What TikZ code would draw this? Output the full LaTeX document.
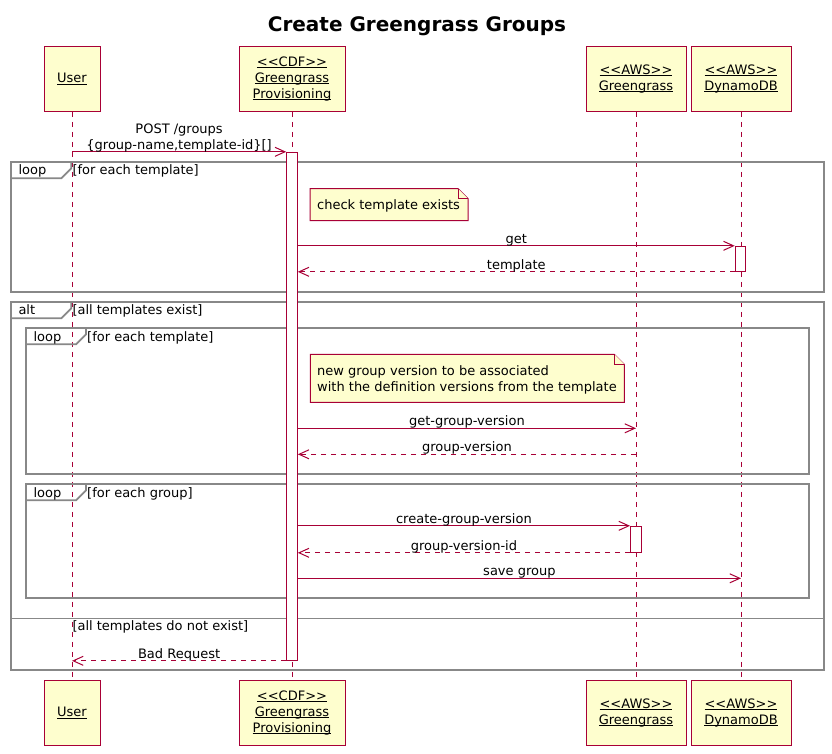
\documentclass[tikz,border=0pt]{standalone}
\usepackage{fontspec}
\setmainfont{DejaVu Sans}[Ligatures=TeXOff]
\usetikzlibrary{arrows.meta}
\definecolor{pu}{HTML}{A80036}
\definecolor{pfill}{HTML}{FEFECE}
\definecolor{fr}{HTML}{888888}
\newcommand\uln[1]{\leavevmode\setbox0\hbox{#1}\rlap{\rule[-1.8pt]{\wd0}{0.9pt}}\box0}
\tikzset{
  txt/.style={font=\fontsize{13}{16}\selectfont},
  participant/.style={txt, draw=pu, fill=pfill, line width=1pt, minimum height=65pt, align=center, inner sep=0pt},
  lifeline/.style={draw=pu, dash pattern=on 5pt off 5pt, line width=1pt},
  actbar/.style={draw=pu, fill=white, line width=1pt, minimum width=10.6pt, inner sep=0pt},
  msg/.style={draw=pu, line width=1pt, -{Straight Barb[length=10pt,width=9pt,line width=1pt]}},
  ret/.style={msg, dash pattern=on 5pt off 5pt},
  mlabel/.style={txt, anchor=base, yshift=2.5pt, inner sep=0pt},
  frame/.style={draw=fr, line width=1.8pt},
  sep/.style={draw=fr, line width=1pt},
  flabel/.style={txt, anchor=base west, inner sep=0pt},
  notebox/.style={draw=pu, fill=pfill, line width=1pt},
}
\begin{document}
\begin{tikzpicture}[x=1pt,y=-1pt]
\useasboundingbox[fill=white] (0,0) rectangle (832,753);
\node[font=\bfseries\fontsize{20}{24}\selectfont, anchor=base] (title) at (417,31) {Create Greengrass Groups};

% participants
\node[participant, minimum width=56pt]  (user)  at (72,78.8)  {\uln{User}};
\node[participant, minimum width=106pt] (cdf)   at (292,78.8) {\uln{<<CDF>>}\\\uln{Greengrass}\\\uln{Provisioning}};
\node[participant, minimum width=100pt] (gg)    at (636,78.8) {\uln{<<AWS>>}\\\uln{Greengrass}};
\node[participant, minimum width=100pt] (ddb)   at (741,78.8) {\uln{<<AWS>>}\\\uln{DynamoDB}};
\node[participant, minimum width=56pt]  (userb) at (72,712.8) {\uln{User}};
\node[participant, minimum width=106pt] (cdfb)  at (292,712.8) {\uln{<<CDF>>}\\\uln{Greengrass}\\\uln{Provisioning}};
\node[participant, minimum width=100pt] (ggb)   at (636,712.8) {\uln{<<AWS>>}\\\uln{Greengrass}};
\node[participant, minimum width=100pt] (ddbb)  at (741,712.8) {\uln{<<AWS>>}\\\uln{DynamoDB}};

% lifelines
\draw[lifeline] (user.south) -- (userb.north);
\draw[lifeline] (cdf.south) -- (cdfb.north);
\draw[lifeline] (gg.south) -- (ggb.north);
\draw[lifeline] (ddb.south) -- (ddbb.north);

% frames
% loop 1
\draw[frame] (11.3,162.3) rectangle (823.7,292.3);
\draw[frame] (11.3,178.3) -- (61.3,178.3) -- (71.3,168.3) -- (71.3,162.3);
\node[flabel] (l1) at (18.3,174.7) {loop};
\node[flabel] (c1) at (72.3,174.7) {[for each template]};
% alt
\draw[frame] (11.3,302.3) rectangle (823.7,670.3);
\draw[frame] (11.3,318.3) -- (61.3,318.3) -- (71.3,308.3) -- (71.3,302.3);
\node[flabel] (l2) at (18.3,314.7) {alt};
\node[flabel] (c2) at (72.3,314.7) {[all templates exist]};
% loop 2
\draw[frame] (26,328.3) rectangle (808.7,474);
\draw[frame] (26,344.3) -- (76,344.3) -- (86,334.3) -- (86,328.3);
\node[flabel] (l3) at (33.3,341) {loop};
\node[flabel] (c3) at (87,341) {[for each template]};
% loop 3
\draw[frame] (26,484.3) rectangle (808.7,598);
\draw[frame] (26,500.3) -- (76,500.3) -- (86,490.3) -- (86,484.3);
\node[flabel] (l4) at (33.3,497) {loop};
\node[flabel] (c4) at (87,497) {[for each group]};
% else
\draw[sep] (11.3,618) -- (823.7,618);
\node[flabel] (c5) at (72.3,630.7) {[all templates do not exist]};

% activations
\node[actbar, minimum height=508pt] (act1) at (292,406.3) {};
\node[actbar, minimum height=25pt] (actD) at (740.5,258.8) {};
\node[actbar, minimum height=26pt] (actG) at (635.8,539.3) {};

% notes
\draw[notebox] (310,188.7) -- (458,188.7) -- (468,198.7) -- (468,220.7) -- (310,220.7) -- cycle;
\draw[notebox] (458,188.7) -- (458,198.7) -- (468,198.7);
\node[flabel] (n1) at (317,209.5) {check template exists};
\draw[notebox] (310.3,354.3) -- (614.3,354.3) -- (624.3,364.3) -- (624.3,402.3) -- (310.3,402.3) -- cycle;
\draw[notebox] (614.3,354.3) -- (614.3,364.3) -- (624.3,364.3);
\node[flabel] (n2a) at (317,375) {new group version to be associated};
\node[flabel] (n2b) at (317,391) {with the definition versions from the template};

% messages
\coordinate (ggv) at (0,428.3);
\coordinate (gv) at (0,454.3);
\coordinate (sg) at (0,578.3);
\draw[msg] (user.south |- act1.north) -- node[mlabel] {\begin{tabular}[b]{@{}c@{}}POST /groups\\\{group-name,template-id\}[]\end{tabular}} (act1.north west);
\draw[msg] (act1.east |- actD.north) -- node[mlabel] {get} (actD.north west);
\draw[ret] (actD.south west) -- node[mlabel] {template} (act1.east |- actD.south);
\draw[msg] (act1.east |- ggv) -- node[mlabel] {get-group-version} (gg.south |- ggv);
\draw[ret] (gg.south |- gv) -- node[mlabel] {group-version} (act1.east |- gv);
\draw[msg] (act1.east |- actG.north) -- node[mlabel] {create-group-version} (actG.north west);
\draw[ret] (actG.south west) -- node[mlabel] {group-version-id} (act1.east |- actG.south);
\draw[msg] (act1.east |- sg) -- node[mlabel] {save group} (ddb.south |- sg);
\draw[ret] (act1.south west) -- node[mlabel] {Bad Request} (user.south |- act1.south);
\end{tikzpicture}
\end{document}
